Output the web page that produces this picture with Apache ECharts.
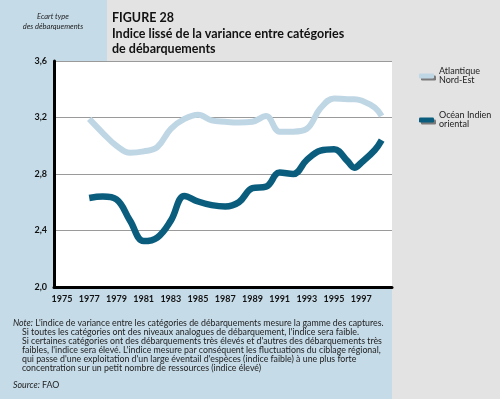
<!DOCTYPE html>
<html><head><meta charset="utf-8">
<script src="https://cdn.jsdelivr.net/npm/echarts@6/dist/echarts.min.js"></script>
<style>html,body{margin:0;padding:0;background:#c5dbe8}#c{width:500px;height:399px}</style>
</head><body><div id="c"></div>
<script>
var years = [1977,1978,1979,1980,1981,1982,1983,1984,1985,1986,1987,1988,1989,1990,1991,1992,1993,1994,1995,1996,1996.5,1997,1998,1998.5];
var atlantique = [3.19,3.09,3.00,2.95,2.96,2.99,3.12,3.19,3.22,3.18,3.17,3.165,3.17,3.21,3.10,3.10,3.12,3.265,3.335,3.33,3.33,3.32,3.27,3.21];
var indien = [2.63,2.64,2.62,2.47,2.325,2.35,2.47,2.645,2.605,2.58,2.57,2.60,2.70,2.71,2.81,2.80,2.90,2.965,2.975,2.89,2.845,2.88,2.97,3.04];
var xTickLabels = [1975,1977,1979,1981,1983,1985,1987,1989,1991,1993,1995,1997];
var seriesNames = ['Atlantique\nNord-Est','Océan Indien\noriental'];
var noteLines = [
 "Si toutes les catégories ont des niveaux analogues de débarquement, l'indice sera faible.",
 "Si certaines catégories ont des débarquements très élevés et d'autres des débarquements très",
 "faibles, l'indice sera élevé. L'indice mesure par conséquent les fluctuations du ciblage régional,",
 "qui passe d'une exploitation d'un large éventail d'espèces (indice faible) à une plus forte",
 "concentration sur un petit nombre de ressources (indice élevé)"
];
var pair = function(vals){ return years.map(function(y,i){ return [y, vals[i]]; }); };
var FONT = 'Lato';
var NF = '8.8px ';
var chart = echarts.init(document.getElementById('c'), null, {renderer:'canvas'});
function txt(x,y,t,font,extra){
  var s = {x:x,y:y,text:t,font:font,fill:'#222',textVerticalAlign:'middle'};
  if (extra) for (var k in extra) s[k]=extra[k];
  return {type:'text', style:s};
}
var graphics = [
 {type:'rect', z:-10, shape:{x:107,y:0,width:393,height:61}, style:{fill:'#e3e3e3'}},
 {type:'rect', z:-10, shape:{x:392,y:0,width:108,height:399}, style:{fill:'#e3e3e3'}},
 txt(53,17,'Ecart type','italic 7.5px '+FONT,{textAlign:'center'}),
 txt(53,27,'des débarquements','italic 7.5px '+FONT,{textAlign:'center'}),
 txt(112,18,'FIGURE 28','bold 12.5px '+FONT,{fill:'#111'}),
 txt(112,34,'Indice lissé de la variance entre catégories','bold 12.5px '+FONT,{fill:'#111'}),
 txt(112,48.5,'de débarquements','bold 12.5px '+FONT,{fill:'#111'}),
 txt(13,323.5,'{i|Note:} L\'indice de variance entre les catégories de débarquements mesure la gamme des captures.',
   NF+FONT,{rich:{i:{font:'italic '+NF+FONT,fill:'#222'}}}),
 txt(13,385,'{i|Source:} FAO',NF+FONT,{rich:{i:{font:'italic '+NF+FONT,fill:'#222'}}})
];
noteLines.forEach(function(t,i){
  graphics.push(txt(22,332.4+i*8.85,t,NF+FONT));
});
chart.setOption({
 animation:false,
 backgroundColor:'#c5dbe8',
 graphic:graphics,
 grid:{left:54,top:61,right:108,bottom:112,show:true,backgroundColor:'#ffffff',borderWidth:0,z:0},
 legend:{
   orient:'vertical', left:414, top:62, itemGap:26, itemWidth:15, itemHeight:5, icon:'roundRect',
   textStyle:{fontFamily:FONT,fontSize:9,color:'#222',lineHeight:9},
   itemStyle:{shadowColor:'#7a7a7a',shadowOffsetX:2,shadowOffsetY:2,shadowBlur:0},
   data:seriesNames
 },
 xAxis:{
   type:'value', min:1974.41, max:1999.26,
   axisLine:{show:true,onZero:false,lineStyle:{color:'#000',width:3}},
   axisTick:{show:false},
   splitLine:{show:false},
   axisLabel:{customValues:xTickLabels,fontFamily:FONT,fontWeight:'bold',fontSize:9,color:'#111',margin:8,formatter:function(v){return String(v);}}
 },
 yAxis:{
   type:'value', min:2.0, max:3.6, interval:0.4,
   axisLine:{show:true,lineStyle:{color:'#000',width:3}},
   axisTick:{show:false},
   splitLine:{show:true,lineStyle:{color:'#9a9a9a',width:1}},
   axisLabel:{fontFamily:FONT,fontWeight:'bold',fontSize:9,color:'#111',margin:7,formatter:function(v){return v.toFixed(1).replace('.',',');}}
 },
 series:[
   {name:seriesNames[0],type:'line',data:pair(atlantique),smooth:0.4,symbol:'none',
    lineStyle:{color:'#bfd6e5',width:6},itemStyle:{color:'#bfd6e5'}},
   {name:seriesNames[1],type:'line',data:pair(indien),smooth:0.4,symbol:'none',
    lineStyle:{color:'#0b5d7e',width:6.5},itemStyle:{color:'#0b5d7e'}}
 ]
});
</script></body></html>
